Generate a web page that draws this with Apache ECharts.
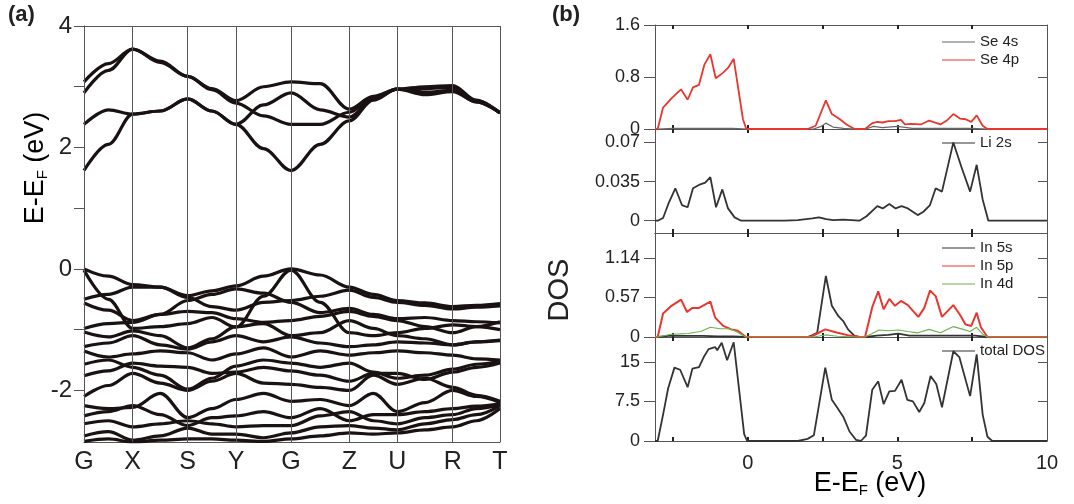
<!DOCTYPE html>
<html>
<head>
<meta charset="utf-8">
<script src="https://cdn.jsdelivr.net/npm/echarts@6/dist/echarts.min.js"></script>
<style>
html,body{margin:0;padding:0;background:#fff;}
#c{width:1074px;height:504px;}
</style>
</head>
<body>
<div id="c"></div>
<script>
// ---------- (a) band structure ----------
const kTicks = [0, 48.7, 103.7, 152, 207, 265.3, 313.3, 368.7, 416];
const kLabels = ['G', 'X', 'S', 'Y', 'G', 'Z', 'U', 'R', 'T'];
const kGrid = [0, 24.35, 48.7, 76.2, 103.7, 127.85, 152, 179.5, 207, 236.15, 265.3, 289.3, 313.3, 341, 368.7, 392.35, 416];
const bandTickValues = [-2, -1, 0, 1, 2, 3, 4];
const bandLabelValues = [-2, 0, 2, 4];

// conduction bands (eV at kGrid)
const cb1 = [1.62, 2.05, 2.55, 2.6, 2.8, 2.6, 2.38, 1.98, 1.62, 2.05, 2.44, 2.78, 2.96, 2.91, 2.94, 2.75, 2.57];
const cb2 = [2.38, 2.62, 2.55, 2.6, 2.8, 2.6, 2.38, 2.7, 2.9, 2.62, 2.5, 2.8, 2.96, 2.97, 2.99, 2.77, 2.57];
const cb3 = [2.9, 3.27, 3.62, 3.42, 3.17, 2.95, 2.73, 2.52, 2.38, 2.38, 2.58, 2.82, 2.96, 2.87, 2.92, 2.75, 2.57];
const cb4 = [3.08, 3.38, 3.62, 3.4, 3.17, 2.97, 2.77, 3.0, 3.08, 3.05, 2.63, 2.84, 2.96, 3.0, 3.02, 2.78, 2.57];

// valence bands (eV at kGrid)
const vb1 = [0.00, -0.12, -0.26, -0.30, -0.44, -0.36, -0.28, -0.12, 0.00, -0.10, -0.30, -0.42, -0.52, -0.56, -0.62, -0.60, -0.57];
const vb2 = [-0.02, -0.50, -0.98, -0.95, -0.90, -0.80, -0.96, -0.45, -0.02, -0.55, -1.05, -1.10, -1.05, -0.98, -0.92, -0.95, -1.00];
const vb3 = [-0.50, -0.42, -0.30, -0.30, -0.47, -0.62, -0.68, -0.55, -0.52, -0.45, -0.35, -0.47, -0.55, -0.60, -0.66, -0.63, -0.61];
const vb4 = [-0.56, -0.68, -0.85, -0.75, -0.52, -0.42, -0.33, -0.40, -0.55, -0.72, -0.65, -0.75, -0.82, -0.80, -0.85, -0.87, -0.89];
const vb5 = [-0.98, -0.90, -0.88, -0.75, -0.70, -0.72, -0.82, -0.88, -0.85, -0.78, -0.70, -0.78, -0.85, -0.95, -1.05, -0.95, -0.87];
const vb6 = [-1.04, -1.12, -1.02, -1.10, -1.30, -1.15, -0.95, -0.90, -1.10, -1.05, -0.85, -0.98, -1.10, -1.15, -1.25, -1.20, -1.17];
const vb7 = [-1.28, -1.22, -1.10, -1.25, -1.32, -1.20, -1.10, -1.20, -1.12, -1.22, -1.28, -1.25, -1.20, -1.22, -1.25, -1.20, -1.18];
const vb8 = [-1.35, -1.45, -1.40, -1.35, -1.38, -1.50, -1.40, -1.30, -1.45, -1.35, -1.42, -1.38, -1.35, -1.38, -1.42, -1.48, -1.50];
const vb9 = [-1.57, -1.50, -1.62, -1.75, -1.98, -1.80, -1.60, -1.50, -1.55, -1.62, -1.55, -1.70, -1.80, -1.75, -1.65, -1.57, -1.52];
const vb10 = [-1.76, -1.68, -1.55, -1.60, -1.62, -1.72, -1.70, -1.62, -1.68, -1.75, -1.85, -1.72, -1.72, -1.82, -1.70, -1.62, -1.55];
const vb11 = [-2.10, -1.92, -1.72, -1.88, -2.00, -1.85, -1.72, -1.88, -1.90, -1.95, -2.00, -1.75, -1.90, -1.80, -1.95, -2.08, -2.18];
const vb12 = [-2.25, -2.30, -2.28, -2.05, -2.45, -2.30, -2.15, -2.05, -2.18, -2.15, -2.25, -2.05, -2.35, -2.20, -2.00, -2.10, -2.20];
const vb13 = [-2.42, -2.35, -2.25, -2.40, -2.58, -2.45, -2.42, -2.35, -2.45, -2.30, -2.50, -2.40, -2.40, -2.35, -2.30, -2.26, -2.22];
const vb14 = [-2.55, -2.50, -2.60, -2.55, -2.50, -2.55, -2.60, -2.58, -2.58, -2.42, -2.35, -2.50, -2.55, -2.45, -2.40, -2.30, -2.23];
const vb15 = [-2.75, -2.68, -2.82, -2.75, -2.62, -2.72, -2.72, -2.78, -2.70, -2.60, -2.58, -2.62, -2.65, -2.55, -2.48, -2.40, -2.25];
const vb16 = [-2.84, -2.80, -2.85, -2.82, -2.80, -2.80, -2.82, -2.84, -2.80, -2.75, -2.70, -2.72, -2.70, -2.65, -2.60, -2.50, -2.30];

// ---------- (b) DOS, [E - EF (eV), DOS] ----------
const se4s = [[-3.1,0],[-3.0,0],[-2.5,0.01],[-1.5,0.01],[-0.5,0.01],[0,0],[2.2,0],[2.45,0.04],[2.61,0.09],[2.85,0.03],[3.2,0.01],[3.6,0],[3.95,0],[4.2,0.04],[4.5,0.02],[5.0,0.04],[5.5,0.01],[6.5,0.01],[7.5,0.01],[8.0,0],[10,0]];
const se4p = [[-3.1,0],[-3.01,0],[-2.83,0.33],[-2.55,0.47],[-2.23,0.61],[-2.01,0.45],[-1.83,0.64],[-1.63,0.68],[-1.45,0.99],[-1.25,1.15],[-1.07,0.78],[-0.84,0.86],[-0.66,0.94],[-0.47,1.08],[-0.16,0.15],[-0.05,0],[2.0,0],[2.27,0.05],[2.61,0.44],[2.81,0.23],[3.08,0.15],[3.3,0.07],[3.57,0],[3.92,0],[4.16,0.09],[4.33,0.11],[4.51,0.1],[4.7,0.12],[4.92,0.12],[5.12,0.14],[5.25,0.07],[5.46,0.08],[5.79,0.07],[6.06,0.13],[6.44,0.07],[6.65,0.13],[6.87,0.23],[7.09,0.16],[7.28,0.15],[7.47,0.11],[7.65,0.21],[7.85,0.05],[8.01,0],[10,0]];
const li2s = [[-3.1,0],[-3.01,0],[-2.83,0.0024],[-2.64,0.016],[-2.42,0.029],[-2.2,0.014],[-2.01,0.012],[-1.83,0.029],[-1.63,0.032],[-1.42,0.034],[-1.25,0.039],[-1.06,0.012],[-0.85,0.028],[-0.66,0.011],[-0.44,0.003],[-0.22,0],[1.24,0],[1.67,0.0006],[2.16,0.002],[2.38,0.003],[2.62,0.0015],[2.86,0.0006],[3.19,0.001],[3.73,0],[3.97,0.004],[4.33,0.013],[4.51,0.011],[4.73,0.015],[4.94,0.011],[5.14,0.013],[5.35,0.011],[5.68,0.005],[5.87,0.008],[6.09,0.014],[6.28,0.029],[6.49,0.026],[6.87,0.07],[7.14,0.048],[7.43,0.026],[7.65,0.05],[7.85,0.019],[8.04,0],[10,0]];
const in5s = [[-3.1,0],[-3.0,0],[-2.6,0.02],[-2.0,0.015],[-1.5,0.015],[-1.0,0.01],[-0.5,0.01],[-0.05,0],[2.0,0],[2.1,0.015],[2.32,0.06],[2.61,0.88],[2.81,0.45],[3.03,0.3],[3.19,0.23],[3.35,0.11],[3.57,0.015],[3.73,0],[3.95,0],[4.3,0.02],[4.7,0.03],[5.03,0.05],[5.4,0.02],[6.0,0.02],[7.0,0.02],[7.6,0.02],[8.0,0],[10,0]];
const in5p = [[-3.1,0],[-3.01,0],[-2.83,0.34],[-2.55,0.45],[-2.23,0.54],[-2.03,0.36],[-1.85,0.42],[-1.63,0.42],[-1.25,0.51],[-1.09,0.28],[-0.82,0.16],[-0.55,0.11],[-0.33,0.09],[-0.06,0],[2.1,0],[2.59,0.11],[2.97,0.065],[3.4,0.02],[3.73,0],[3.92,0],[4.16,0.43],[4.36,0.66],[4.54,0.4],[4.73,0.55],[4.92,0.45],[5.12,0.52],[5.35,0.46],[5.7,0.29],[5.9,0.42],[6.09,0.67],[6.28,0.59],[6.49,0.29],[6.87,0.46],[7.09,0.32],[7.28,0.18],[7.47,0.16],[7.65,0.35],[7.79,0.14],[8.01,0],[10,0]];
const in4d = [[-3.1,0],[-3.01,0],[-2.55,0.04],[-2.0,0.05],[-1.58,0.08],[-1.25,0.14],[-0.93,0.12],[-0.6,0.12],[-0.39,0.08],[-0.06,0],[2.2,0],[2.59,0.03],[3.0,0.01],[3.6,0],[3.92,0],[4.16,0.05],[4.38,0.1],[4.7,0.09],[5.03,0.1],[5.35,0.08],[5.68,0.06],[6.06,0.11],[6.44,0.06],[6.87,0.15],[7.2,0.11],[7.43,0.08],[7.65,0.14],[7.85,0.04],[8.01,0],[10,0]];
const totalDos = [[-3.1,0],[-3.01,0],[-2.83,5],[-2.66,10],[-2.45,13.9],[-2.26,13.5],[-2.01,10.2],[-1.85,13.7],[-1.63,14.0],[-1.47,15.9],[-1.31,17.4],[-1.09,17.8],[-1.02,17.2],[-0.87,18.6],[-0.69,15.3],[-0.47,18.7],[-0.12,1.3],[-0.02,0],[1.67,0],[2.0,0.4],[2.21,1.1],[2.59,13.9],[2.81,7.8],[2.97,6.5],[3.19,4.6],[3.4,1.8],[3.62,0.2],[3.78,0],[3.95,1.0],[4.16,9.7],[4.36,11.3],[4.54,7.0],[4.73,9.4],[4.92,9.5],[5.14,11.6],[5.33,7.8],[5.52,7.5],[5.73,5.5],[5.9,7.2],[6.11,12.3],[6.3,10.8],[6.49,6.4],[6.87,17.0],[7.07,15.9],[7.43,8.5],[7.65,16.4],[7.85,5.0],[8.01,0.8],[8.17,0],[10,0]];

const dosXTicks = [-2.5, 0, 2.5, 5, 7.5];
const dosXLabels = [0, 5, 10];
const seTicks = [0, 0.8, 1.6];
const liTicks = [0, 0.035, 0.07];
const inTicks = [0, 0.57, 1.14];
const totTicks = [0, 7.5, 15];

// ---------- build ----------
const FONT = 'Liberation Sans, Arial, sans-serif';
const axisCol = '#555';
const bands = [cb1, cb2, cb3, cb4, vb1, vb2, vb3, vb4, vb5, vb6, vb7, vb8, vb9, vb10, vb11, vb12, vb13, vb14, vb15, vb16];

const grids = [
  {left: 84, top: 26, width: 416, height: 416},
  {left: 655, top: 25, width: 392, height: 104},
  {left: 655, top: 129, width: 392, height: 104},
  {left: 655, top: 233, width: 392, height: 104},
  {left: 655, top: 337, width: 392, height: 104}
];

const xAxes = [
  {gridIndex: 0, type: 'value', min: 0, max: 416, position: 'bottom',
   axisLine: {onZero: false, lineStyle: {color: axisCol, width: 1}}, axisTick: {show: false}, splitLine: {show: false},
   axisLabel: {customValues: kTicks, fontSize: 25, color: '#222', fontFamily: FONT, margin: 8,
     formatter: function (v) { const i = kTicks.indexOf(v); return i >= 0 ? kLabels[i] : ''; }}},
  {gridIndex: 0, type: 'value', min: 0, max: 416, position: 'top',
   axisLine: {onZero: false, lineStyle: {color: axisCol, width: 1}}, axisTick: {show: false}, axisLabel: {show: false}, splitLine: {show: false}}
];
const yAxes = [
  {gridIndex: 0, type: 'value', min: -2.85, max: 4, position: 'left',
   axisLine: {show: true, onZero: false, lineStyle: {color: axisCol, width: 1}},
   axisTick: {show: true, customValues: bandTickValues, length: 10, lineStyle: {color: axisCol}},
   axisLabel: {customValues: bandLabelValues, fontSize: 24, color: '#222', fontFamily: FONT, margin: 12},
   splitLine: {show: false}}
];

const dosY = [
  {min: 0, max: 1.6, ticks: seTicks},
  {min: -0.011, max: 0.082, ticks: liTicks},
  {min: 0, max: 1.5, ticks: inTicks},
  {min: 0, max: 19.7, ticks: totTicks}
];
for (let i = 0; i < 4; i++) {
  const g = i + 1;
  ['bottom', 'top'].forEach(function (pos) {
    const lab = (pos === 'bottom' && i === 3);
    xAxes.push({gridIndex: g, type: 'value', min: -3.1, max: 10, position: pos,
      axisLine: {show: true, onZero: false, lineStyle: {color: axisCol, width: 1}},
      axisTick: {show: true, inside: true, customValues: dosXTicks, length: 4, lineStyle: {color: '#222', width: 2}},
      axisLabel: lab ? {customValues: dosXLabels, fontSize: 20, color: '#222', fontFamily: FONT, margin: 12} : {show: false},
      splitLine: {show: false}});
  });
  yAxes.push({gridIndex: g, type: 'value', min: dosY[i].min, max: dosY[i].max, position: 'left',
    axisLine: {show: true, onZero: false, lineStyle: {color: axisCol, width: 1}},
    axisTick: {show: true, customValues: dosY[i].ticks, length: 11, lineStyle: {color: axisCol}},
    axisLabel: {customValues: dosY[i].ticks, fontSize: 18, color: '#222', fontFamily: FONT, margin: 15},
    splitLine: {show: false}});
  yAxes.push({gridIndex: g, type: 'value', min: dosY[i].min, max: dosY[i].max, position: 'right',
    axisLine: {show: true, onZero: false, lineStyle: {color: axisCol, width: 1}},
    axisTick: {show: true, inside: true, customValues: dosY[i].ticks, length: 9, lineStyle: {color: axisCol}},
    axisLabel: {show: false}, splitLine: {show: false}});
}

const series = [];
series.push({type: 'line', xAxisIndex: 0, yAxisIndex: 0, data: [], silent: true, z: 1,
  markLine: {silent: true, symbol: ['none', 'none'], label: {show: false},
    lineStyle: {color: '#555', width: 1, type: 'solid'},
    data: kTicks.map(function (k) { return {xAxis: k}; })}});
bands.forEach(function (b) {
  series.push({type: 'line', xAxisIndex: 0, yAxisIndex: 0, z: 3,
    data: kGrid.map(function (k, i) { return [k, b[i]]; }),
    showSymbol: false, smooth: 0.35, smoothMonotone: 'x', silent: true,
    lineStyle: {color: '#1a1212', width: 3.2}});
});

function dosSeries(name, data, g, color, width) {
  return {name: name, type: 'line', xAxisIndex: 2 + (g - 1) * 2, yAxisIndex: 1 + (g - 1) * 2,
    data: data, showSymbol: false, silent: true, clip: true, z: 3,
    lineStyle: {color: color, width: width}, itemStyle: {color: color}};
}
const BLK = '#333333', RED = '#e8372f', GRN = '#6ab44c', GRY = '#666666';
series.push(dosSeries('Se 4s', se4s, 1, GRY, 1.2));
series.push(dosSeries('Se 4p', se4p, 1, RED, 1.8));
series.push(dosSeries('Li 2s', li2s, 2, BLK, 1.8));
series.push(dosSeries('In 5s', in5s, 3, BLK, 1.8));
series.push(dosSeries('In 5p', in5p, 3, RED, 2));
series.push(dosSeries('In 4d', in4d, 3, GRN, 1.1));
series.push(dosSeries('total DOS', totalDos, 4, BLK, 1.8));

function legend(names, top) {
  return {data: names, left: 937, top: top, orient: 'vertical', icon: 'rect', itemWidth: 33, itemHeight: 1.2,
    itemGap: 2, selectedMode: false, textStyle: {fontSize: 15, color: '#222', fontFamily: FONT, lineHeight: 16}};
}

const sub = {
  a: {fontSize: 27, fontFamily: FONT, color: '#222'},
  s: {fontSize: 15, fontFamily: FONT, color: '#222', padding: [14, 0, 0, 0]}
};

const option = {
  animation: false,
  backgroundColor: '#fff',
  grid: grids,
  xAxis: xAxes,
  yAxis: yAxes,
  series: series,
  legend: [
    legend(['Se 4s', 'Se 4p'], 29),
    legend(['Li 2s'], 130),
    legend(['In 5s', 'In 5p', 'In 4d'], 235),
    legend(['total DOS'], 338)
  ],
  graphic: [
    {type: 'text', left: 8, top: 4, style: {text: '(a)', font: 'bold 22px ' + FONT, fill: '#222'}},
    {type: 'text', left: 552, top: 4, style: {text: '(b)', font: 'bold 22px ' + FONT, fill: '#222'}},
    {type: 'text', x: 36, y: 168, rotation: Math.PI / 2,
      style: {text: '{a|E-E}{s|F}{a| (eV)}', rich: sub, align: 'center', verticalAlign: 'middle'}},
    {type: 'text', x: 560, y: 290, rotation: Math.PI / 2,
      style: {text: 'DOS', font: '29px ' + FONT, fill: '#222', align: 'center', verticalAlign: 'middle'}},
    {type: 'text', x: 870, y: 484,
      style: {text: '{a|E-E}{s|F}{a| (eV)}', rich: sub, align: 'center', verticalAlign: 'middle'}}
  ]
};

const chart = echarts.init(document.getElementById('c'), null, {renderer: 'canvas'});
chart.setOption(option);
</script>
</body>
</html>
